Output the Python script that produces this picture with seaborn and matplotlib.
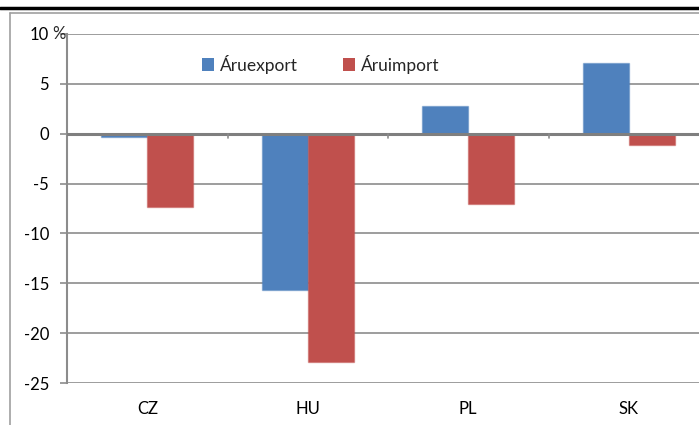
import numpy as np
import pandas as pd
import matplotlib
matplotlib.use("Agg")
import matplotlib.pyplot as plt
from matplotlib.lines import Line2D
import seaborn as sns

countries = ["CZ", "HU", "PL", "SK"]
series = ["Áruexport", "Áruimport"]
export_vals = [-0.35, -15.7, 2.8, 7.1]
import_vals = [-7.3, -22.9, -7.0, -1.1]
y_ticks = [10, 5, 0, -5, -10, -15, -20, -25]
colors = ["#4F81BD", "#C0504D"]

df = pd.DataFrame({
    "country": countries * 2,
    "series": [series[0]] * 4 + [series[1]] * 4,
    "value": export_vals + import_vals,
})

sns.set_theme(style="white")
plt.rcParams["font.family"] = ["Lato", "DejaVu Sans"]

fig = plt.figure(figsize=(6.99, 4.25), dpi=100)
ax = fig.add_axes([67 / 699, 1 - 383 / 425, 642 / 699, 349 / 425])

sns.barplot(data=df, x="country", y="value", hue="series", palette=colors,
            saturation=1, width=0.5714, gap=0, ax=ax, edgecolor="none", linewidth=0)
for patch, c in zip(ax.patches, [colors[0]] * 4 + [colors[1]] * 4):
    patch.set_edgecolor(matplotlib.colors.to_rgba(c, 0.45))
    patch.set_linewidth(1.0)
    patch.set_zorder(3)

ax.set_xlim(-0.5, 3.5)
ax.set_ylim(-25, 10)
ax.set_yticks(y_ticks)
ax.set_yticklabels([str(t) for t in y_ticks])
ax.set_xlabel("")
ax.set_ylabel("")

grid_c = "#8c8c8c"
for t in y_ticks:
    if t != 0:
        ax.axhline(t, color=grid_c, lw=1.2, zorder=0)
ax.axhline(0, color="#7f7f7f", lw=2.2, zorder=4)
for b in [0.5, 1.5, 2.5]:
    ax.plot([b, b], [0, -0.45], color=grid_c, lw=1.2, zorder=4)

for s in ["top", "right", "bottom"]:
    ax.spines[s].set_visible(False)
ax.spines["left"].set_color(grid_c)
ax.spines["left"].set_linewidth(1.5)

ax.tick_params(axis="y", which="both", left=True, length=5, width=1.2,
               color=grid_c, pad=8, labelsize=12, labelcolor="#000000")
ax.tick_params(axis="x", length=0, pad=13, labelsize=12, labelcolor="#000000")

ax.text(52 / 699, 1 - 34 / 425, "%", transform=fig.transFigure, ha="left",
        va="center", fontsize=12)

ax.legend(loc="center", bbox_to_anchor=(0.395, 0.914), ncol=2, frameon=False,
          fontsize=12.5, handlelength=0.7, handleheight=0.7, handletextpad=0.35,
          columnspacing=2.6)

fig.add_artist(Line2D([0, 1], [1 - 8 / 425, 1 - 8 / 425], color="black", lw=2.5,
                      transform=fig.transFigure))
fig.add_artist(Line2D([10 / 699, 1], [1 - 12.5 / 425, 1 - 12.5 / 425], color="#a0a0a0",
                      lw=1.2, transform=fig.transFigure))
fig.add_artist(Line2D([10 / 699, 10 / 699], [1 - 12.5 / 425, 0], color="#a0a0a0",
                      lw=1.2, transform=fig.transFigure))

fig.savefig("out.png", dpi=100)
